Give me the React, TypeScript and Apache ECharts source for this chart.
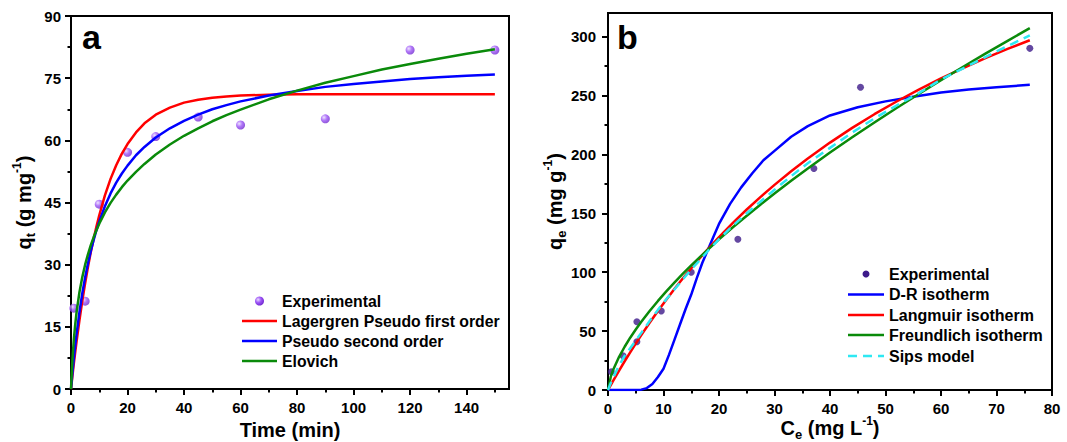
import React, { useEffect, useRef } from 'react';
import * as echarts from 'echarts';

// ---------- Panel a: kinetics ----------
const timeGrid = [0, 0.5, 1, 1.5, 2, 3, 4, 5, 6, 7, 8, 9, 10, 12, 14, 16, 18, 20, 23, 26, 30, 35, 40, 45, 50, 55, 60, 70, 80, 90, 100, 110, 120, 130, 140, 150];
const pfoQt = [0, 3.1, 6.1, 8.9, 11.6, 16.6, 21.3, 25.5, 29.4, 33.0, 36.2, 39.2, 41.9, 46.7, 50.7, 54.0, 56.8, 59.1, 61.9, 64.1, 66.2, 67.9, 69.1, 69.8, 70.3, 70.6, 70.8, 71.0, 71.1, 71.1, 71.1, 71.1, 71.1, 71.1, 71.1, 71.1];
const psoQt = [0, 3.8, 7.3, 10.5, 13.4, 18.6, 23.1, 26.9, 30.3, 33.3, 35.9, 38.3, 40.4, 44.1, 47.2, 49.8, 52.0, 53.9, 56.4, 58.4, 60.7, 62.9, 64.7, 66.2, 67.5, 68.5, 69.4, 70.8, 71.9, 72.9, 73.6, 74.2, 74.8, 75.2, 75.6, 75.9];
const elovichQt = [0, 7.0, 11.9, 15.6, 18.7, 23.4, 27.0, 30.0, 32.5, 34.7, 36.6, 38.3, 39.9, 42.6, 44.9, 46.9, 48.7, 50.3, 52.4, 54.3, 56.6, 59.0, 61.1, 62.9, 64.6, 66.1, 67.4, 69.9, 72.0, 73.9, 75.5, 77.1, 78.4, 79.7, 80.9, 82.0];
const expTime = [1, 5, 10, 20, 30, 45, 60, 90, 120, 150];
const expQt = [19.5, 21.2, 44.6, 57.1, 60.9, 65.6, 63.7, 65.2, 81.8, 81.8];
const aXMajor = [0, 20, 40, 60, 80, 100, 120, 140];
const aXMinor = [10, 30, 50, 70, 90, 110, 130, 150];
const aYMajor = [0, 15, 30, 45, 60, 75, 90];
const aYMinor = [7.5, 22.5, 37.5, 52.5, 67.5, 82.5];

// ---------- Panel b: isotherms ----------
const ceGrid = [0, 0.5, 1, 2, 3, 4, 5, 6, 7.5, 9, 10.5, 12, 13.5, 15, 16.5, 18, 20, 22.5, 25, 27.5, 30, 33, 36, 40, 44, 48, 52, 56, 60, 64, 68, 72, 76];
const langmuirQe = [0, 4.2, 8.4, 16.5, 24.4, 32.0, 39.4, 46.6, 57.1, 67.1, 76.7, 86.0, 94.9, 103.4, 111.7, 119.6, 129.8, 141.8, 153.2, 163.9, 174.1, 185.7, 196.5, 210.0, 222.5, 234.1, 244.9, 255.0, 264.5, 273.3, 281.7, 289.5, 296.9];
const freundlichQe = [0, 11.3, 17.9, 28.2, 36.7, 44.4, 51.4, 57.9, 67.1, 75.6, 83.7, 91.3, 98.7, 105.8, 112.6, 119.2, 127.8, 138.1, 147.9, 157.5, 166.8, 177.6, 188.0, 201.5, 214.5, 227.1, 239.4, 251.3, 263.0, 274.4, 285.5, 296.4, 307.1];
const sipsQe = [0, 6, 11, 21, 29, 35.5, 42, 48.5, 58.5, 68, 77, 85.5, 94, 102.5, 110, 118, 128, 139.5, 150, 160, 170, 181.5, 192.5, 205.5, 218.5, 230.5, 241.5, 252, 263.5, 273, 282.5, 292, 301];
const drCe = [0, 5, 6, 7, 8, 9, 10, 11, 12, 13, 14, 15, 16, 17, 18, 19, 20, 22, 24, 26, 28, 30, 33, 36, 40, 45, 50, 55, 60, 65, 70, 76];
const drQe = [0, 0, 0.3, 1.6, 5.1, 11, 18, 30, 43, 56, 69, 81, 95, 108, 119, 130, 141, 158, 172, 184, 195, 203, 215, 224, 233, 240, 245, 249, 252.5, 255, 257, 259];
const expCe = [0.6, 2.7, 5.2, 5.2, 9.6, 15, 23.4, 37.1, 45.5, 76];
const expQe = [15.5, 29, 41, 58, 67, 100, 128, 188, 257, 290];
const bXMajor = [0, 10, 20, 30, 40, 50, 60, 70, 80];
const bXMinor = [5, 15, 25, 35, 45, 55, 65, 75];
const bYMajor = [0, 50, 100, 150, 200, 250, 300];
const bYMinor = [25, 75, 125, 175, 225, 275];

const legendA = ['Experimental', 'Lagergren Pseudo first order', 'Pseudo second order', 'Elovich'];
const legendB = ['Experimental', 'D-R isotherm', 'Langmuir isotherm', 'Freundlich isotherm', 'Sips model'];

const RED = '#ff0000';
const BLUE = '#0000ff';
const GREEN = '#0a8a0a';
const CYAN = '#2ee8f2';
const PURPLE_B = '#3d1a8a';
const FONT = "'Liberation Sans', Arial, sans-serif";

const purpleGrad = {
  type: 'radial', x: 0.35, y: 0.35, r: 0.75,
  colorStops: [
    { offset: 0, color: '#eadcff' },
    { offset: 0.45, color: '#9d55f7' },
    { offset: 1, color: '#6a22c8' },
  ],
};

const zip = (xs: number[], ys: number[]) => xs.map((x, i) => [x, ys[i]]);

const labelStyle = { fontSize: 15, fontWeight: 'bold', color: '#000', fontFamily: FONT };
const makeRich = (subLH: number) => ({
  m: { fontSize: 20, fontWeight: 'bold', color: '#000', fontFamily: FONT, lineHeight: 26 },
  s: { fontSize: 13, fontWeight: 'bold', color: '#000', fontFamily: FONT, lineHeight: subLH, verticalAlign: 'bottom' },
  p: { fontSize: 12, fontWeight: 'bold', color: '#000', fontFamily: FONT, lineHeight: 12, verticalAlign: 'top' },
});

function mainAxis(grid: number, min: number, max: number, major: number[], pos: string, margin: number, name: string, nameGap: number, vertical: boolean, subLH = 12) {
  const rich = makeRich(subLH);
  return {
    type: 'value', gridIndex: grid, min, max, position: pos,
    axisLine: { show: true, onZero: false, lineStyle: { color: '#000', width: 2 } },
    axisTick: { show: true, inside: false, length: 6, lineStyle: { color: '#000', width: 2 }, customValues: major },
    axisLabel: { ...labelStyle, margin, customValues: major },
    splitLine: { show: false },
    name, nameLocation: 'middle', nameGap,
    nameMoveOverlap: false,
    nameRotate: vertical ? 90 : 0,
    nameTextStyle: { ...rich.m, rich },
  };
}
function minorAxis(grid: number, min: number, max: number, minor: number[], pos: string) {
  return {
    type: 'value', gridIndex: grid, min, max, position: pos,
    axisLine: { show: false, onZero: false },
    axisTick: { show: true, inside: false, length: 3.5, lineStyle: { color: '#000', width: 2 }, customValues: minor },
    axisLabel: { show: false },
    splitLine: { show: false },
  };
}

function lineSeries(name: string, xi: number, yi: number, data: number[][], color: string, dashed = false) {
  return {
    type: 'line', name, xAxisIndex: xi, yAxisIndex: yi, data,
    smooth: false, showSymbol: false, symbol: 'none',
    lineStyle: { color, width: 2.5, type: dashed ? [9, 6] : 'solid', join: 'round' },
    z: dashed ? 5 : 3,
  };
}

function legendGraphics(x0: number, x1: number, rows: number[], names: string[], colors: (string | null)[], dashedIdx: number, dot: any, dotR: number, fs: number) {
  const els: any[] = [];
  names.forEach((n, i) => {
    const y = rows[i];
    if (i === 0) {
      els.push({ type: 'circle', shape: { cx: (x0 + x1) / 2, cy: y, r: dotR }, style: { fill: dot } });
    } else {
      els.push({
        type: 'line', shape: { x1: x0, y1: y, x2: x1, y2: y },
        style: { stroke: colors[i], lineWidth: 2.5, lineDash: i === dashedIdx ? [9, 6] : null },
      });
    }
    els.push({
      type: 'text', x: x1 + 5, y,
      style: { text: n, font: `bold ${fs}px ${FONT}`, fill: '#000', verticalAlign: 'middle', align: 'left' },
    });
  });
  return els;
}

export default function App() {
  const ref = useRef<HTMLDivElement>(null);
  useEffect(() => {
    if (!ref.current) return;
    const chart = echarts.init(ref.current, null, { renderer: 'svg' });
    const option: any = {
      animation: false,
      backgroundColor: '#fff',
      grid: [
        { left: 71, top: 16, width: 438, height: 373, show: true, borderColor: '#000', borderWidth: 2, backgroundColor: 'transparent', containLabel: false, outerBoundsMode: 'none' },
        { left: 608, top: 13, width: 444, height: 377, show: true, borderColor: '#000', borderWidth: 2, backgroundColor: 'transparent', containLabel: false, outerBoundsMode: 'none' },
      ],
      xAxis: [
        mainAxis(0, 0, 155, aXMajor, 'bottom', 11, 'Time (min)', 28, false),
        minorAxis(0, 0, 155, aXMinor, 'bottom'),
        mainAxis(1, 0, 80, bXMajor, 'bottom', 11, '{m|C}{s|e}{m| (mg L}{p|-1}{m|)}', 25, false, 17),
        minorAxis(1, 0, 80, bXMinor, 'bottom'),
      ],
      yAxis: [
        mainAxis(0, 0, 90, aYMajor, 'left', 10, '{m|q}{s|t}{m| (g mg}{p|-1}{m|)}', 34, true),
        minorAxis(0, 0, 90, aYMinor, 'left'),
        mainAxis(1, 0, 320, bYMajor, 'left', 12, '{m|q}{s|e}{m| (mg g}{p|-1}{m|)}', 40, true),
        minorAxis(1, 0, 320, bYMinor, 'left'),
      ],
      series: [
        lineSeries('Lagergren Pseudo first order', 0, 0, zip(timeGrid, pfoQt), RED),
        lineSeries('Pseudo second order', 0, 0, zip(timeGrid, psoQt), BLUE),
        lineSeries('Elovich', 0, 0, zip(timeGrid, elovichQt), GREEN),
        {
          type: 'scatter', name: 'Experimental', xAxisIndex: 0, yAxisIndex: 0,
          data: zip(expTime, expQt), symbol: 'circle', symbolSize: 9,
          itemStyle: { color: purpleGrad }, z: 2,
        },
        {
          type: 'scatter', name: 'Experimental (b)', xAxisIndex: 2, yAxisIndex: 2,
          data: zip(expCe, expQe), symbol: 'circle', symbolSize: 7,
          itemStyle: { color: PURPLE_B }, z: 2,
        },
        lineSeries('D-R isotherm', 2, 2, zip(drCe, drQe), BLUE),
        lineSeries('Langmuir isotherm', 2, 2, zip(ceGrid, langmuirQe), RED),
        lineSeries('Freundlich isotherm', 2, 2, zip(ceGrid, freundlichQe), GREEN),
        lineSeries('Sips model', 2, 2, zip(ceGrid, sipsQe), CYAN, true),
      ],
      graphic: [
        { type: 'text', x: 82, y: 37, style: { text: 'a', font: `bold 34px ${FONT}`, fill: '#000', verticalAlign: 'middle', align: 'left' } },
        { type: 'text', x: 617, y: 37, style: { text: 'b', font: `bold 34px ${FONT}`, fill: '#000', verticalAlign: 'middle', align: 'left' } },
        ...legendGraphics(242, 277, [301, 321, 341, 361], legendA, [null, RED, BLUE, GREEN], -1, purpleGrad, 4.5, 15.8),
        ...legendGraphics(848, 884, [274, 294.5, 315, 335, 356], legendB, [null, BLUE, RED, GREEN, CYAN], 4, PURPLE_B, 3.5, 16),
      ],
    };
    chart.setOption(option);
    return () => chart.dispose();
  }, []);
  return <div ref={ref} style={{ position: 'fixed', left: 0, top: 0, width: 1067, height: 442, background: '#fff' }} />;
}
